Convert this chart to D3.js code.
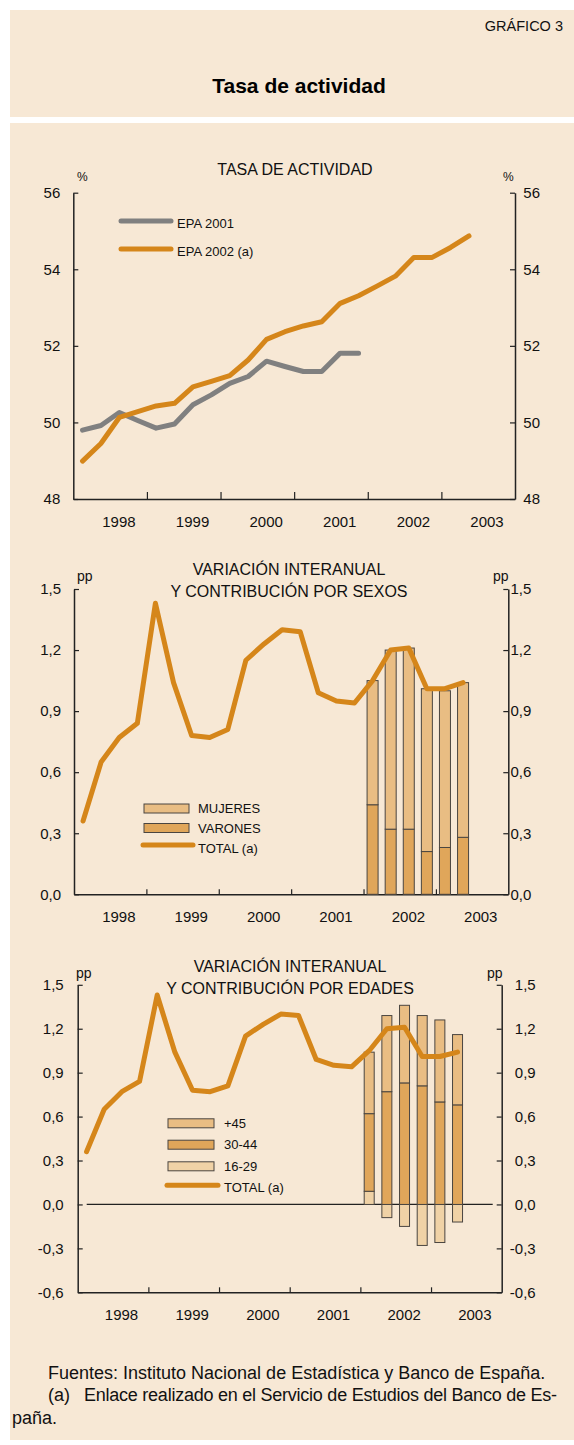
<!DOCTYPE html>
<html>
<head>
<meta charset="utf-8">
<script src="https://cdn.jsdelivr.net/npm/d3@7"></script>
<style>
  body { margin: 0; background: #fff; }
  svg { display: block; font-family: "Liberation Sans", Arial, sans-serif; }
</style>
</head>
<body>
<svg id="chart" width="574" height="1445"></svg>
<script>
// ---- data ----
const quarters = ["1998-1", "1998-2", "1998-3", "1998-4", "1999-1", "1999-2", "1999-3", "1999-4",
    "2000-1", "2000-2", "2000-3", "2000-4", "2001-1", "2001-2", "2001-3", "2001-4",
    "2002-1", "2002-2", "2002-3", "2002-4", "2003-1", "2003-2"]
const years = [1998, 1999, 2000, 2001, 2002, 2003]

// tasa de actividad, %
const epa2001 = [49.80, 49.92, 50.26, 50.05, 49.85, 49.96, 50.46, 50.72, 51.02, 51.20, 51.60, 51.46,
    51.33, 51.33, 51.81, 51.81]
const epa2002 = [48.99, 49.45, 50.13, 50.28, 50.43, 50.50, 50.93, 51.07, 51.22, 51.63, 52.17, 52.37,
    52.52, 52.63, 53.11, 53.31, 53.56, 53.82, 54.31, 54.31, 54.57, 54.87]

// variación interanual, pp
const totalVar = [0.36, 0.65, 0.77, 0.84, 1.43, 1.04, 0.78, 0.77, 0.81, 1.15, 1.23, 1.30,
    1.29, 0.99, 0.95, 0.94, 1.05, 1.20, 1.21, 1.01, 1.01, 1.04]

const barQuarters = ["2002-1", "2002-2", "2002-3", "2002-4", "2003-1", "2003-2"]
const varones = [0.44, 0.32, 0.32, 0.21, 0.23, 0.28]
const mujeres = [0.61, 0.88, 0.89, 0.80, 0.77, 0.76]

const edad1629 = [0.09, -0.09, -0.15, -0.28, -0.26, -0.12]
const edad3044 = [0.53, 0.77, 0.83, 0.81, 0.70, 0.68]
const edad45 = [0.42, 0.52, 0.53, 0.48, 0.56, 0.48]

// ---- colours ----
const bg = "#f7e8d5"
const orange = "#d5861a"
const grey = "#808080"
const cMujeres = "#e9bd83"
const cVarones = "#e0a65a"
const c1629 = "#f0d2a6"

const es = d3.formatLocale({ decimal: ",", thousands: ".", grouping: [3], currency: ["", "€"], minus: "-" })
const fmt1 = es.format(".1f")

// quarter "1998-1" -> decimal year at mid quarter
function qpos(q) {
    const p = q.split("-")
    return +p[0] + (+p[1] - 0.5) / 4
}

const svg = d3.select("#chart")

// panels
svg.append("rect").attr("x", 10).attr("y", 10).attr("width", 564).attr("height", 107).attr("fill", bg)
svg.append("rect").attr("x", 10).attr("y", 123).attr("width", 564).attr("height", 1317).attr("fill", bg)

svg.append("text").attr("x", 563).attr("y", 31).attr("text-anchor", "end")
    .style("font-size", "14.5px").attr("fill", "#111").text("GRÁFICO 3")
svg.append("text").attr("x", 299).attr("y", 93).attr("text-anchor", "middle")
    .style("font-size", "21px").style("font-weight", "bold").attr("fill", "#000").text("Tasa de actividad")

function panel(cfg) {
    const g = svg.append("g")
    const x = d3.scaleLinear().domain([1998, 2004]).range([cfg.left, cfg.right])
    const y = d3.scaleLinear().domain(cfg.yDomain).range([cfg.bottom, cfg.top])

    // titles
    cfg.title.forEach(function (t, i) {
        g.append("text").attr("x", cfg.titleX).attr("y", cfg.titleY + i * 21.5)
            .attr("text-anchor", "middle").style("font-size", "16px").attr("fill", "#111").text(t)
    })
    g.append("text").attr("x", cfg.unitL).attr("y", cfg.unitY).style("font-size", cfg.unitSize)
        .attr("fill", "#111").text(cfg.unit)
    g.append("text").attr("x", cfg.unitR).attr("y", cfg.unitY).style("font-size", cfg.unitSize)
        .attr("fill", "#111").text(cfg.unit)

    // left axis
    const ax = g.append("g").attr("class", "axis")
    ax.append("g").attr("transform", `translate(${cfg.left},0)`)
        .call(d3.axisLeft(y).tickValues(cfg.yTicks).tickFormat(cfg.fmt)
            .tickSizeInner(-5).tickSizeOuter(0).tickPadding(cfg.padL))
    // right axis, labels right aligned
    ax.append("g").attr("transform", `translate(${cfg.right},0)`)
        .call(d3.axisRight(y).tickValues(cfg.yTicks).tickFormat(cfg.fmt)
            .tickSizeInner(-5).tickSizeOuter(0))
        .selectAll("text").attr("text-anchor", "end").attr("x", cfg.padR)
    // bottom axis
    ax.append("g").attr("transform", `translate(0,${cfg.bottom})`)
        .call(d3.axisBottom(x).tickValues(years.slice(1)).tickFormat("")
            .tickSizeInner(-cfg.xTick).tickSizeOuter(0))

    ax.selectAll("g").attr("font-family", null).attr("font-size", null)
    ax.selectAll(".domain").attr("stroke", "#222").attr("stroke-width", 1.5)
    ax.selectAll(".tick line").attr("stroke", "#222").attr("stroke-width", 1.2)
    ax.selectAll("text").style("font-size", "15px").attr("fill", "#111")

    // year labels
    g.selectAll(".yr").data(years).join("text")
        .attr("x", d => x(d + 0.62)).attr("y", cfg.bottom + 28)
        .attr("text-anchor", "middle").style("font-size", "15px").attr("fill", "#111")
        .text(d => d)

    return { g: g, x: x, y: y }
}

function drawLine(p, qs, vals, color) {
    const line = d3.line().x(d => p.x(qpos(d[0]))).y(d => p.y(d[1]))
    p.g.append("path").datum(d3.zip(qs, vals))
        .attr("d", line).attr("fill", "none").attr("stroke", color)
        .attr("stroke-width", 5).attr("stroke-linejoin", "round").attr("stroke-linecap", "round")
}

function drawBars(p, keys, colors, table, w) {
    const series = d3.stack().keys(keys).offset(d3.stackOffsetDiverging)(table)
    series.forEach(function (s, i) {
        p.g.append("g").selectAll("rect").data(s).join("rect")
            .attr("x", d => p.x(qpos(d.data.q)) - w / 2)
            .attr("y", d => p.y(Math.max(d[0], d[1])))
            .attr("width", w)
            .attr("height", d => Math.abs(p.y(d[0]) - p.y(d[1])))
            .attr("fill", colors[i]).attr("stroke", "#4a4540").attr("stroke-width", 1)
    })
}

function legend(g, items, x0, textX) {
    items.forEach(function (it) {
        if (it.type == "line") {
            g.append("line").attr("x1", x0).attr("x2", x0 + it.len).attr("y1", it.y).attr("y2", it.y)
                .attr("stroke", it.color).attr("stroke-width", 5).attr("stroke-linecap", "round")
        } else {
            g.append("rect").attr("x", x0 + 1).attr("y", it.y - 4.5).attr("width", it.len - 2).attr("height", 9)
                .attr("fill", it.color).attr("stroke", "#4a4540").attr("stroke-width", 1)
        }
        g.append("text").attr("x", textX).attr("y", it.y + it.dy).attr("dy", "0.35em")
            .style("font-size", "13px").attr("fill", "#111").text(it.label)
    })
}

// ---- chart 1: tasa de actividad ----
const p1 = panel({
    left: 73.3, right: 515, top: 192.7, bottom: 499,
    yDomain: [48, 56], yTicks: [48, 50, 52, 54, 56], fmt: d3.format("d"),
    padL: 13, padR: 25, xTick: 7,
    title: ["TASA DE ACTIVIDAD"], titleX: 295, titleY: 175,
    unit: "%", unitL: 77, unitR: 503, unitY: 181, unitSize: "12px"
})
drawLine(p1, quarters.slice(0, epa2001.length), epa2001, grey)
drawLine(p1, quarters, epa2002, orange)
legend(p1.g, [
    { type: "line", y: 221, len: 50, color: grey, label: "EPA 2001", dy: 2 },
    { type: "line", y: 249, len: 50, color: orange, label: "EPA 2002 (a)", dy: 2 }
], 121, 177)

// ---- chart 2: por sexos ----
const p2 = panel({
    left: 74, right: 508.3, top: 589, bottom: 894.3,
    yDomain: [0, 1.5], yTicks: d3.range(0, 16, 3).map(d => d / 10), fmt: fmt1,
    padL: 13, padR: 23, xTick: 5,
    title: ["VARIACIÓN INTERANUAL", "Y CONTRIBUCIÓN POR SEXOS"], titleX: 289, titleY: 575,
    unit: "pp", unitL: 77, unitR: 493, unitY: 581, unitSize: "14px"
})
const sexTable = barQuarters.map((q, i) => ({ q: q, varones: varones[i], mujeres: mujeres[i] }))
drawBars(p2, ["varones", "mujeres"], [cVarones, cMujeres], sexTable, 11)
drawLine(p2, quarters, totalVar, orange)
legend(p2.g, [
    { type: "rect", y: 808.5, len: 47, color: cMujeres, label: "MUJERES", dy: 0 },
    { type: "rect", y: 828, len: 47, color: cVarones, label: "VARONES", dy: 0 },
    { type: "line", y: 845, len: 50, color: orange, label: "TOTAL (a)", dy: 3 }
], 143, 198)

// ---- chart 3: por edades ----
const p3 = panel({
    left: 77.7, right: 501.7, top: 984.8, bottom: 1292.3,
    yDomain: [-0.6, 1.5], yTicks: d3.range(-6, 16, 3).map(d => d / 10), fmt: fmt1,
    padL: 14, padR: 34, xTick: 5,
    title: ["VARIACIÓN INTERANUAL", "Y CONTRIBUCIÓN POR EDADES"], titleX: 290, titleY: 972,
    unit: "pp", unitL: 76, unitR: 487, unitY: 978, unitSize: "14px"
})
p3.g.append("line").attr("x1", p3.x(1998) + 9).attr("x2", p3.x(2004) - 9)
    .attr("y1", p3.y(0)).attr("y2", p3.y(0)).attr("stroke", "#222").attr("stroke-width", 1.2)
const ageTable = barQuarters.map((q, i) => ({ q: q, e1629: edad1629[i], e3044: edad3044[i], e45: edad45[i] }))
drawBars(p3, ["e1629", "e3044", "e45"], [c1629, cVarones, cMujeres], ageTable, 10)
drawLine(p3, quarters, totalVar, orange)
legend(p3.g, [
    { type: "rect", y: 1123.3, len: 48, color: cMujeres, label: "+45", dy: 0 },
    { type: "rect", y: 1144.7, len: 48, color: cVarones, label: "30-44", dy: 0 },
    { type: "rect", y: 1166.3, len: 48, color: c1629, label: "16-29", dy: 0 },
    { type: "line", y: 1185.3, len: 51, color: orange, label: "TOTAL (a)", dy: 2 }
], 167, 224)

// ---- footer ----
const foot = svg.append("g").style("font-size", "18px").attr("fill", "#111")
foot.append("text").attr("x", 48).attr("y", 1379).text("Fuentes: Instituto Nacional de Estadística y Banco de España.")
foot.append("text").attr("x", 48).attr("y", 1401).text("(a)")
foot.append("text").attr("x", 84).attr("y", 1401)
    .attr("textLength", 473).attr("lengthAdjust", "spacing")
    .text("Enlace realizado en el Servicio de Estudios del Banco de Es-")
foot.append("text").attr("x", 12).attr("y", 1424).text("paña.")
</script>
</body>
</html>
